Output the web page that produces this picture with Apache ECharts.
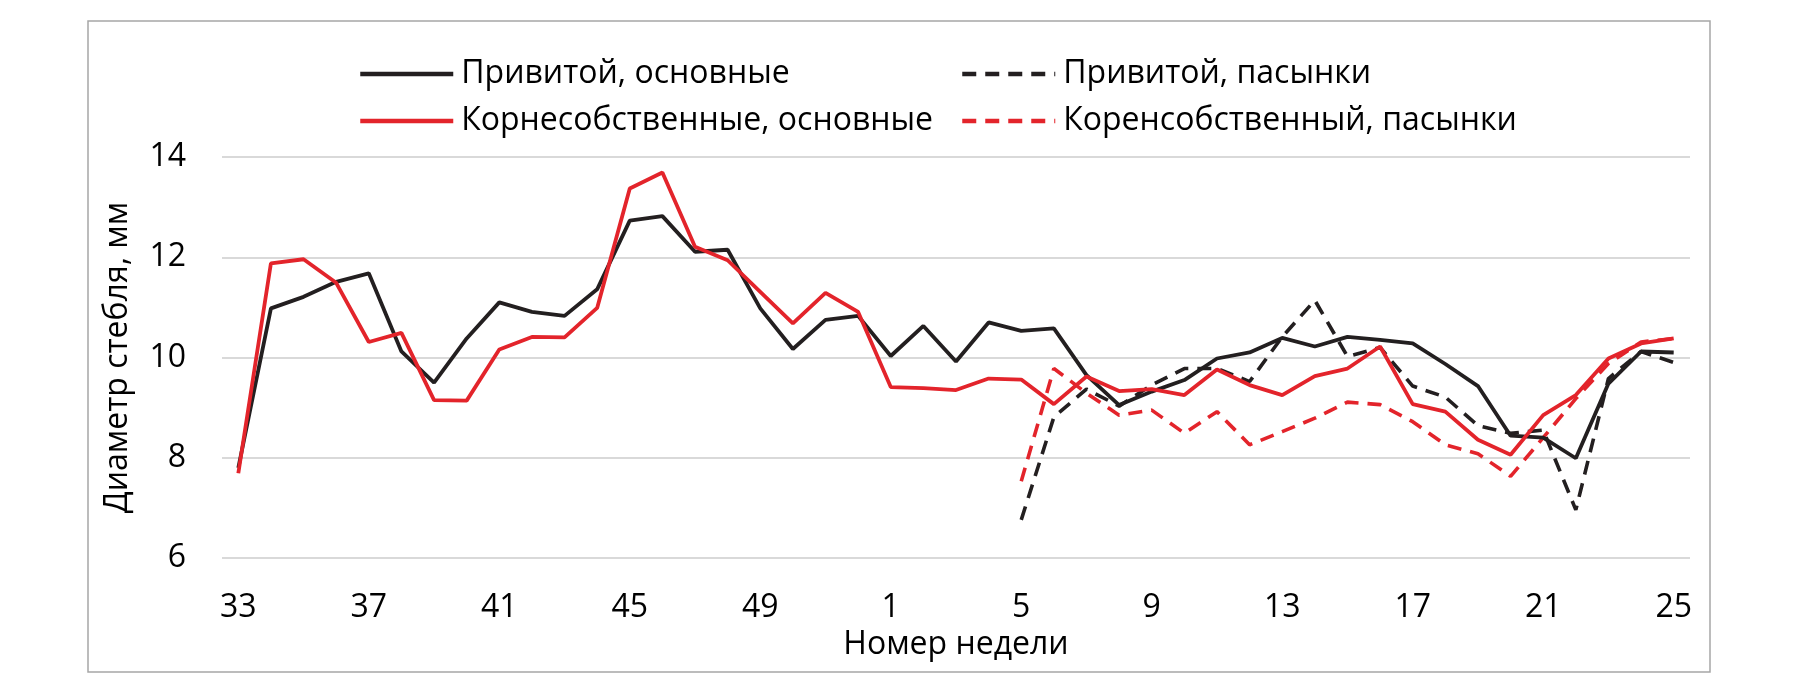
<!DOCTYPE html>
<html>
<head>
<meta charset="utf-8">
<script src="https://cdn.jsdelivr.net/npm/echarts@6/dist/echarts.min.js"></script>
<style>
html,body{margin:0;padding:0;background:#fff;}
#chart{width:1800px;height:700px;}
</style>
</head>
<body>
<div id="chart"></div>
<script>
const weeks = ['33','34','35','36','37','38','39','40','41','42','43','44','45','46','47','48','49','50','51','52',
  '1','2','3','4','5','6','7','8','9','10','11','12','13','14','15','16','17','18','19','20','21','22','23','24','25'];

const graftedMain = [7.8, 10.98, 11.21, 11.51, 11.68, 10.12, 9.50, 10.38, 11.10, 10.91, 10.83, 11.36, 12.73, 12.82, 12.11, 12.15, 10.98, 10.17, 10.75, 10.83,
  10.03, 10.63, 9.92, 10.70, 10.53, 10.58, 9.65, 9.05, 9.32, 9.55, 9.98, 10.10, 10.39, 10.22, 10.41, 10.35, 10.28, 9.87, 9.43, 8.44, 8.40, 7.99, 9.48, 10.12, 10.10];

const ownMain = [7.69, 11.88, 11.96, 11.49, 10.31, 10.49, 9.15, 9.14, 10.16, 10.41, 10.40, 10.99, 13.37, 13.69, 12.21, 11.94, 11.31, 10.68, 11.29, 10.91,
  9.41, 9.39, 9.35, 9.58, 9.56, 9.07, 9.62, 9.33, 9.37, 9.25, 9.76, 9.45, 9.25, 9.63, 9.78, 10.22, 9.07, 8.92, 8.36, 8.06, 8.85, 9.25, 9.98, 10.28, 10.38];

const graftedSide = [null, null, null, null, null, null, null, null, null, null, null, null, null, null, null, null, null, null, null, null,
  null, null, null, null, 6.76, 8.81, 9.37, 9.03, 9.45, 9.78, 9.78, 9.52, 10.41, 11.14, 10.02, 10.20, 9.43, 9.21, 8.64, 8.49, 8.55, 6.96, 9.58, 10.12, 9.90];

const ownSide = [null, null, null, null, null, null, null, null, null, null, null, null, null, null, null, null, null, null, null, null,
  null, null, null, null, 7.53, 9.78, 9.29, 8.85, 8.95, 8.49, 8.92, 8.26, 8.52, 8.79, 9.11, 9.06, 8.72, 8.26, 8.08, 7.63, 8.40, 9.18, 9.88, 10.31, 10.38];

const seriesNames = ['Привитой, основные', 'Корнесобственные, основные', 'Привитой, пасынки', 'Коренсобственный, пасынки'];

const BLACK = '#231f20';
const RED = '#e3242b';
const FONT = 'Open Sans';

const chart = echarts.init(document.getElementById('chart'), null, {renderer: 'canvas'});

const legendText = {fontFamily: FONT, fontSize: 32, color: '#000', lineHeight: 36, padding: [0, 0, 0, 3]};
const legendCommon = {
  orient: 'vertical',
  top: 51,
  itemWidth: 93,
  itemHeight: 16,
  itemGap: 11,
  itemStyle: {color: 'rgba(0,0,0,0)', borderWidth: 0, opacity: 0},
  lineStyle: {width: 4.5},
  textStyle: legendText
};

chart.setOption({
  backgroundColor: '#fff',
  animation: false,
  graphic: [{
    type: 'rect',
    shape: {x: 88, y: 21, width: 1622, height: 651},
    style: {fill: 'none', stroke: '#a6a6a6', lineWidth: 1.5},
    silent: true
  }],
  legend: [Object.assign({data: [seriesNames[0], seriesNames[1]], left: 353}, legendCommon),
           Object.assign({data: [seriesNames[2], seriesNames[3]], left: 955}, legendCommon)],
  grid: {left: 222, right: 110, top: 157, bottom: 142, containLabel: false},
  xAxis: {
    type: 'category',
    data: weeks,
    boundaryGap: true,
    name: 'Номер недели',
    nameLocation: 'middle',
    nameGap: 66,
    nameTextStyle: {fontFamily: FONT, fontSize: 32, color: '#000'},
    axisLine: {show: false},
    axisTick: {show: false},
    axisLabel: {interval: 3, margin: 34, fontFamily: FONT, fontSize: 32, color: '#000'},
    splitLine: {show: false}
  },
  yAxis: {
    type: 'value',
    min: 6,
    max: 14,
    interval: 2,
    name: 'Диаметр стебля, мм',
    nameLocation: 'middle',
    nameGap: 88,
    nameTextStyle: {fontFamily: FONT, fontSize: 32, color: '#000'},
    axisLine: {show: false},
    axisTick: {show: false},
    axisLabel: {margin: 36, fontFamily: FONT, fontSize: 32, color: '#000'},
    splitLine: {lineStyle: {color: '#d9d9d9', width: 2}}
  },
  series: [{
    name: seriesNames[0], type: 'line', data: graftedMain, symbol: 'none',
    itemStyle: {color: BLACK}, lineStyle: {color: BLACK, width: 3.8}, z: 4
  }, {
    name: seriesNames[1], type: 'line', data: ownMain, symbol: 'none',
    itemStyle: {color: RED}, lineStyle: {color: RED, width: 3.8}, z: 5
  }, {
    name: seriesNames[2], type: 'line', data: graftedSide, symbol: 'none',
    itemStyle: {color: BLACK}, lineStyle: {color: BLACK, width: 3.6, type: [14, 9]}, z: 3
  }, {
    name: seriesNames[3], type: 'line', data: ownSide, symbol: 'none',
    itemStyle: {color: RED}, lineStyle: {color: RED, width: 3.6, type: [14, 9]}, z: 3
  }]
});
</script>
</body>
</html>
